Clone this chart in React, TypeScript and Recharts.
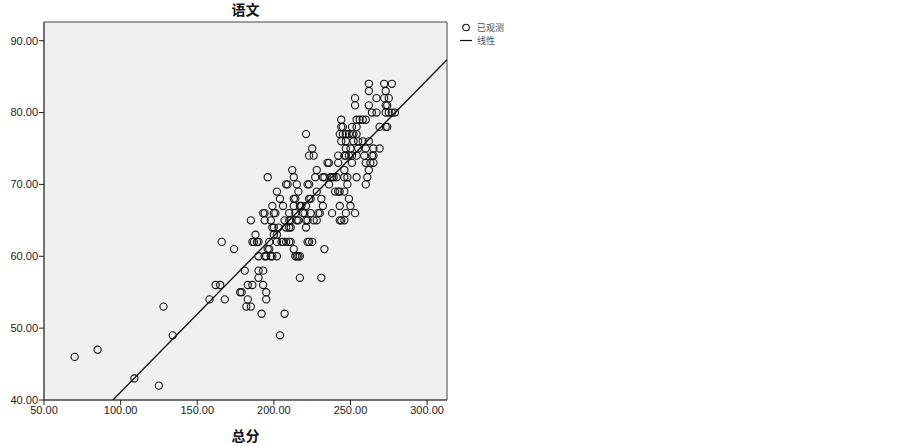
import {
  ScatterChart,
  Scatter,
  XAxis,
  YAxis,
  ReferenceArea,
} from "recharts";

// 总分 / 语文 pairs, grouped by score row
const totalScores: number[] = [
  70, 85, 109, 125, 128, 134, 158, 168, 162, 165, 166, 174, 178, 179, 183, 186, 181, 183, 182, 185,
  190, 190, 193, 193, 195, 195, 192, 207, 204, 217, 231,
  190, 194, 195, 198, 199, 202, 214, 215, 216, 217,
  196, 197, 213, 233,
  187, 190, 186, 189, 197, 202, 205, 206, 208, 210, 211, 222, 223, 225,
  188, 200, 202,
  199, 200, 203, 210, 211, 208, 221,
  185, 194, 198, 207, 215, 216, 210, 211, 221, 222, 226, 228, 243, 244, 246,
  193, 194, 200, 201, 210, 214, 219, 220, 224, 229, 230, 238, 247, 253,
  199, 206, 213, 217, 218, 221, 232, 243, 250,
  204, 213, 214, 223, 224, 231, 249,
  202, 216, 228, 240, 242, 246, 243,
  208, 209, 215, 222, 223, 236, 248, 260,
  196, 213, 227, 232, 233, 237, 238, 239, 241, 246, 248, 254, 261,
  212, 228, 246, 262,
  235, 236, 242, 251, 260, 263, 265,
  223, 226, 242, 246, 247, 249, 251, 254, 259, 264, 265,
  225, 247, 250, 255, 260, 265, 269,
  244, 247, 252, 255, 258, 262,
  221, 243, 245, 247, 249, 251, 252, 254,
  244, 245, 251, 254, 269, 273, 274,
  244, 254, 256, 258, 260,
  264, 267, 273, 275, 277, 279,
  253, 262, 273, 274,
  253, 267, 272, 275,
  262, 273,
  262, 272, 277,
];

const chineseScores: number[] = [
  46, 47, 43, 42, 53, 49, 54, 54, 56, 56, 62, 61, 55, 55, 56, 56, 58, 54, 53, 53,
  57, 58, 58, 56, 55, 54, 52, 52, 49, 57, 57,
  60, 60, 60, 60, 60, 60, 60, 60, 60, 60,
  61, 61, 61, 61,
  62, 62, 62, 62, 62, 62, 62, 62, 62, 62, 62, 62, 62, 62,
  63, 63, 63,
  64, 64, 64, 64, 64, 64, 64,
  65, 65, 65, 65, 65, 65, 65, 65, 65, 65, 65, 65, 65, 65, 65,
  66, 66, 66, 66, 66, 66, 66, 66, 66, 66, 66, 66, 66, 66,
  67, 67, 67, 67, 67, 67, 67, 67, 67,
  68, 68, 68, 68, 68, 68, 68,
  69, 69, 69, 69, 69, 69, 69,
  70, 70, 70, 70, 70, 70, 70, 70,
  71, 71, 71, 71, 71, 71, 71, 71, 71, 71, 71, 71, 71,
  72, 72, 72, 72,
  73, 73, 73, 73, 73, 73, 73,
  74, 74, 74, 74, 74, 74, 74, 74, 74, 74, 74,
  75, 75, 75, 75, 75, 75, 75,
  76, 76, 76, 76, 76, 76,
  77, 77, 77, 77, 77, 77, 77, 77,
  78, 78, 78, 78, 78, 78, 78,
  79, 79, 79, 79, 79,
  80, 80, 80, 80, 80, 80,
  81, 81, 81, 81,
  82, 82, 82, 82,
  83, 83,
  84, 84, 84,
];

const xTicks = [50, 100, 150, 200, 250, 300];
const yTicks = [40, 50, 60, 70, 80, 90];
const X_MIN = 50;
const X_MAX = 313;
const Y_MIN = 40;
const Y_MAX = 92.6;

// linear fit as shown in the picture
const FIT_INTERCEPT = 19.37;
const FIT_SLOPE = 0.2172;

const observed = totalScores.map((x, i) => ({ x, y: chineseScores[i] }));
const fitStart = (Y_MIN - FIT_INTERCEPT) / FIT_SLOPE;
const fitLine = [fitStart, X_MAX].map((x) => ({ x, y: FIT_INTERCEPT + FIT_SLOPE * x }));

const tickStyle = { fill: "#222", fontSize: 11, fontFamily: "Liberation Sans, Arial, sans-serif" };
const cjk = "'Noto Sans CJK SC', sans-serif";

function OpenCircle(props: any) {
  const { cx, cy } = props;
  if (cx == null || cy == null) return null;
  return <circle cx={cx} cy={cy} r={3.6} fill="none" stroke="#111" strokeWidth={1.1} />;
}

function LegendBox() {
  const row = { display: "flex", alignItems: "center", height: 13 } as const;
  const label = { marginLeft: 3, fontSize: 9, lineHeight: "10px", whiteSpace: "nowrap" } as const;
  return (
    <div
      style={{
        position: "absolute",
        left: 458,
        top: 21,
        fontFamily: cjk,
        color: "#555",
      }}
    >
      <div style={row}>
        <svg width={16} height={13}>
          <circle cx={8} cy={6.5} r={3.3} fill="none" stroke="#111" strokeWidth={1.1} />
        </svg>
        <span style={label}>已观测</span>
      </div>
      <div style={row}>
        <svg width={16} height={13}>
          <line x1={2} y1={6.5} x2={14} y2={6.5} stroke="#111" strokeWidth={1.2} />
        </svg>
        <span style={label}>线性</span>
      </div>
    </div>
  );
}

export default function App() {
  return (
    <div style={{ position: "absolute", left: 0, top: 0, width: 903, height: 446, background: "#fff" }}>
      <div
        style={{
          position: "absolute",
          left: 44,
          width: 403,
          top: -1,
          textAlign: "center",
          fontFamily: cjk,
          fontWeight: 700,
          fontSize: 14,
          lineHeight: "20px",
          color: "#111",
        }}
      >
        语文
      </div>
      <ScatterChart
        width={903}
        height={446}
        margin={{ top: 22, right: 456, bottom: 0, left: 0 }}
      >
        <ReferenceArea
          x1={X_MIN}
          x2={X_MAX}
          y1={Y_MIN}
          y2={Y_MAX}
          fill="#f0f0f0"
          fillOpacity={1}
          stroke="#444"
          strokeWidth={1}
        />
        <XAxis
          type="number"
          dataKey="x"
          domain={[X_MIN, X_MAX]}
          ticks={xTicks}
          allowDataOverflow
          height={46}
          tickSize={5}
          tickMargin={1}
          tick={tickStyle}
          tickLine={{ stroke: "#222" }}
          axisLine={{ stroke: "#444" }}
          tickFormatter={(v: number) => v.toFixed(2)}
          label={{
            value: "总分",
            position: "insideBottom",
            offset: 5,
            style: { fontFamily: cjk, fontWeight: 700, fontSize: 14, fill: "#111" },
          }}
        />
        <YAxis
          type="number"
          dataKey="y"
          domain={[Y_MIN, Y_MAX]}
          ticks={yTicks}
          allowDataOverflow
          width={44}
          tickSize={5}
          tickMargin={1}
          tick={tickStyle}
          tickLine={{ stroke: "#222" }}
          axisLine={{ stroke: "#444" }}
          tickFormatter={(v: number) => v.toFixed(2)}
        />
        <Scatter data={observed} shape={OpenCircle} isAnimationActive={false} />
        <Scatter
          data={fitLine}
          line={{ stroke: "#111", strokeWidth: 1.3 }}
          shape={() => null}
          isAnimationActive={false}
        />
      </ScatterChart>
      <LegendBox />
    </div>
  );
}
